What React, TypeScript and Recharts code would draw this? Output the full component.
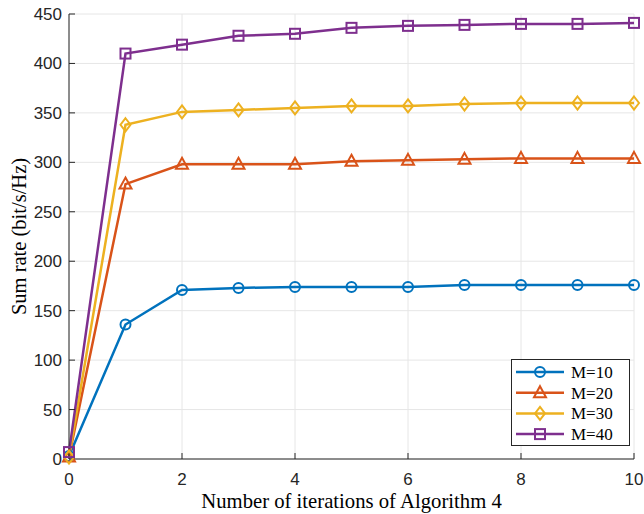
import { LineChart, Line, XAxis, YAxis, CartesianGrid } from 'recharts';

// iterations (x) and sum rate values per antenna count M
const iterations = [0, 1, 2, 3, 4, 5, 6, 7, 8, 9, 10];
const rateM10 = [3, 136, 171, 173, 174, 174, 174, 176, 176, 176, 176];
const rateM20 = [2, 278, 298, 298, 298, 301, 302, 303, 304, 304, 304];
const rateM30 = [2, 338, 351, 353, 355, 357, 357, 359, 360, 360, 360];
const rateM40 = [7, 410, 419, 428, 430, 436, 438, 439, 440, 440, 441];

const xTicks = [0, 2, 4, 6, 8, 10];
const yTicks = [0, 50, 100, 150, 200, 250, 300, 350, 400, 450];

const seriesList = [
  { key: 'm10', name: 'M=10', color: '#0072BD', shape: 'circle', values: rateM10 },
  { key: 'm20', name: 'M=20', color: '#D95319', shape: 'triangle', values: rateM20 },
  { key: 'm30', name: 'M=30', color: '#EDB120', shape: 'diamond', values: rateM30 },
  { key: 'm40', name: 'M=40', color: '#7E2F8E', shape: 'square', values: rateM40 },
];

const data = iterations.map((it, i) => {
  const row: any = { it };
  seriesList.forEach((s) => (row[s.key] = s.values[i]));
  return row;
});

const AXIS = '#262626';
const SANS = '"Liberation Sans", Arial, Helvetica, sans-serif';
const SERIF = '"Liberation Serif", "Times New Roman", serif';

// open MATLAB-like marker
const MarkerShape = ({ shape, color, cx, cy }: any) => {
  const sw = 2;
  if (shape === 'circle') {
    return <circle cx={cx} cy={cy} r={5} fill="none" stroke={color} strokeWidth={sw} />;
  }
  if (shape === 'square') {
    return <rect x={cx - 5} y={cy - 5} width={10} height={10} fill="none" stroke={color} strokeWidth={sw} />;
  }
  if (shape === 'triangle') {
    const pts = `${cx},${cy - 6.5} ${cx + 6},${cy + 4.5} ${cx - 6},${cy + 4.5}`;
    return <polygon points={pts} fill="none" stroke={color} strokeWidth={sw} strokeLinejoin="miter" />;
  }
  const pts = `${cx},${cy - 6.5} ${cx + 5},${cy} ${cx},${cy + 6.5} ${cx - 5},${cy}`;
  return <polygon points={pts} fill="none" stroke={color} strokeWidth={sw} />;
};

const makeDot = (shape: string, color: string) => (props: any) => {
  const { cx, cy, index } = props;
  if (cx == null || cy == null) return <g key={index} />;
  return (
    <g key={index}>
      <MarkerShape shape={shape} color={color} cx={cx} cy={cy} />
    </g>
  );
};

const LegendBox = () => {
  const w = 119;
  const h = 87;
  const rowH = 20.7;
  return (
    <svg width={w} height={h} style={{ display: 'block' }}>
      <rect x={0.5} y={0.5} width={w - 1} height={h - 1} fill="#fff" stroke={AXIS} strokeWidth={1} />
      {seriesList.map((s, i) => {
        const y = 13 + i * rowH;
        return (
          <g key={s.key}>
            <line x1={5} x2={53} y1={y} y2={y} stroke={s.color} strokeWidth={2.5} />
            <MarkerShape shape={s.shape} color={s.color} cx={29} cy={y} />
            <text x={60} y={y + 6} fontFamily={SERIF} fontSize={17} fill="#000">
              {s.name}
            </text>
          </g>
        );
      })}
    </svg>
  );
};

const noLabel = () => <g />;

export default function App() {
  return (
    <div style={{ position: 'absolute', left: 0, top: 0, width: 644, height: 514, background: '#fff' }}>
      <LineChart width={644} height={514} data={data} margin={{ top: 14, right: 10, left: 0, bottom: 0 }}>
        <CartesianGrid stroke="#e6e6e6" strokeWidth={1} />
        <XAxis
          dataKey="it"
          type="number"
          domain={[0, 10]}
          ticks={xTicks}
          height={55}
          stroke={AXIS}
          tickSize={-6}
          tickMargin={20}
          tick={{ fill: AXIS, fontFamily: SANS, fontSize: 17 }}
          label={{
            value: 'Number of iterations of Algorithm 4',
            position: 'center',
            dy: 14,
            fill: '#000',
            fontFamily: SERIF,
            fontSize: 20.7,
          }}
        />
        <XAxis
          xAxisId="top"
          orientation="top"
          type="number"
          domain={[0, 10]}
          ticks={xTicks}
          height={0}
          stroke="#7f7f7f"
          tickSize={-6}
          tick={noLabel}
        />
        <YAxis
          type="number"
          domain={[0, 450]}
          ticks={yTicks}
          width={69}
          stroke={AXIS}
          tickSize={-6}
          tickMargin={13}
          tick={{ fill: AXIS, fontFamily: SANS, fontSize: 17 }}
          label={{
            value: 'Sum rate (bit/s/Hz)',
            angle: -90,
            position: 'center',
            dx: -16,
            fill: '#000',
            fontFamily: SERIF,
            fontSize: 20.5,
          }}
        />
        <YAxis
          yAxisId="right"
          orientation="right"
          type="number"
          domain={[0, 450]}
          ticks={yTicks}
          width={0}
          stroke="#7f7f7f"
          tickSize={-6}
          tick={noLabel}
        />
        {seriesList.map((s) => (
          <Line
            key={s.key}
            dataKey={s.key}
            name={s.name}
            type="linear"
            stroke={s.color}
            strokeWidth={2.5}
            dot={makeDot(s.shape, s.color)}
            activeDot={false}
            isAnimationActive={false}
          />
        ))}
      </LineChart>
      <div style={{ position: 'absolute', left: 511, top: 359 }}>
        <LegendBox />
      </div>
    </div>
  );
}
